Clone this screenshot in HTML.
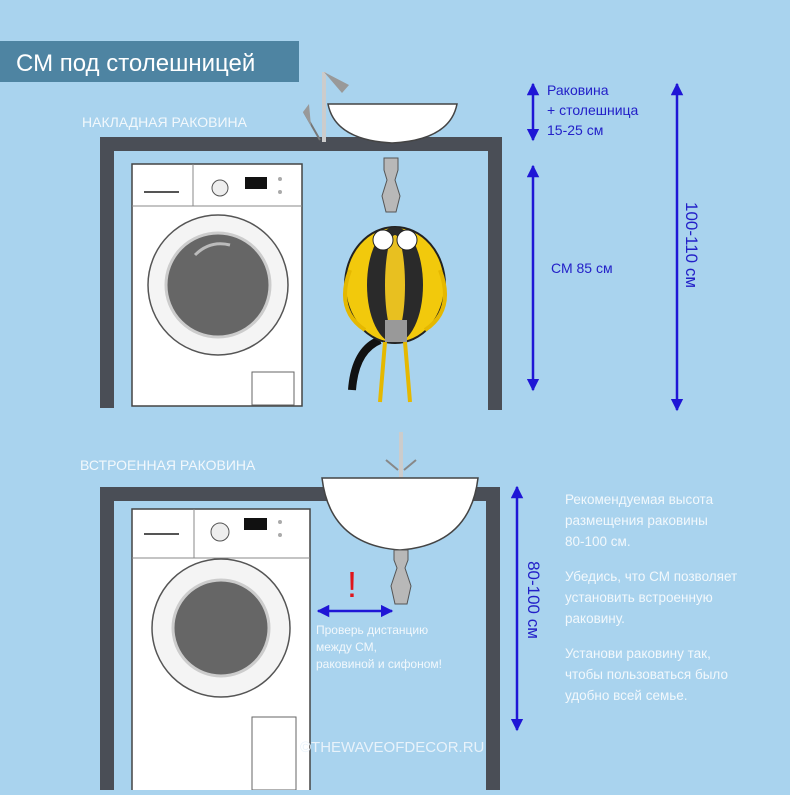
<!DOCTYPE html>
<html><head><meta charset="utf-8"><style>
body{margin:0;width:790px;height:790px;overflow:hidden;background:#a9d3ee;font-family:"Liberation Sans",sans-serif}
</style></head><body>
<svg width="790" height="790" viewBox="0 0 790 790" xmlns="http://www.w3.org/2000/svg" font-family="Liberation Sans, sans-serif">
<defs>
<marker id="a" viewBox="0 0 10 10" refX="9" refY="5" markerWidth="5" markerHeight="5" orient="auto-start-reverse"><path d="M0 0L10 5L0 10z" fill="#1f16d6"/></marker>
</defs>
<rect width="790" height="790" fill="#a9d3ee"/>
<rect x="0" y="41" width="299" height="41" fill="#4e84a2"/>
<text x="16" y="71" font-size="24" fill="#fff">СМ под столешницей</text>
<text x="82" y="127" font-size="14" fill="#f2f8fc">НАКЛАДНАЯ РАКОВИНА</text>
<text x="80" y="470" font-size="14" fill="#f2f8fc">ВСТРОЕННАЯ РАКОВИНА</text>

<path d="M107 408V144H495V410" fill="none" stroke="#4a4e56" stroke-width="14"/>
<path d="M324 142V72" stroke="#ccc" stroke-width="4"/><path d="M324 72l25 13-7 8z" fill="#999"/>
<path d="M320 140l-16 -28" stroke="#777" stroke-width="2"/><path d="M303 112l6-8 2 22z" fill="#999"/>
<path d="M328 104H457Q450 140 392 143Q335 140 328 104z" fill="#fff" stroke="#444" stroke-width="1.5"/>
<path d="M384 158h14v12l-3 10 5 16-4 16h-10l-4-16 5-16-3-10z" fill="#b8b8b8" stroke="#555"/>
<rect x="132" y="164" width="170" height="242" fill="#fff" stroke="#444" stroke-width="1.5"/>
<path d="M132 206H302M193 164V206" stroke="#888"/>
<path d="M144 192h35" stroke="#555" stroke-width="2"/>
<circle cx="220" cy="188" r="8" fill="#eee" stroke="#555"/><rect x="245" y="177" width="22" height="12" fill="#111"/>
<circle cx="280" cy="179" r="2" fill="#aaa"/><circle cx="280" cy="192" r="2" fill="#aaa"/>
<circle cx="218" cy="285" r="70" fill="#f4f4f4" stroke="#555" stroke-width="1.5"/>
<circle cx="218" cy="285" r="52" fill="#666" stroke="#ccc" stroke-width="3"/>
<path d="M195 255q15-15 35-10" stroke="#bbb" stroke-width="3" fill="none"/>
<rect x="252" y="372" width="42" height="33" fill="#fff" stroke="#666"/>
<path d="M380 340q-25 10-28 50" stroke="#111" stroke-width="8" fill="none"/>
<ellipse cx="395" cy="285" rx="50" ry="58" fill="#f2c90c" stroke="#222" stroke-width="2"/>
<ellipse cx="395" cy="285" rx="28" ry="58" fill="#2a2a2a"/>
<ellipse cx="395" cy="285" rx="10" ry="50" fill="#e8c020"/>
<circle cx="383" cy="240" r="10" fill="#fff" stroke="#222"/><circle cx="407" cy="240" r="10" fill="#fff" stroke="#222"/>
<rect x="385" y="320" width="22" height="22" fill="#999"/>
<path d="M350 270q-15 40 15 60M440 270q15 40-15 60M385 342l-5 60M405 342l5 60" stroke="#e5b800" stroke-width="4" fill="none"/>

<path d="M107 790V494H493V790" fill="none" stroke="#4a4e56" stroke-width="14"/>
<path d="M401 484V432" stroke="#ccc" stroke-width="4"/>
<path d="M398 470l-12-10M404 470l12-10" stroke="#888" stroke-width="2"/>
<path d="M322 478H478Q470 545 400 550Q330 545 322 478z" fill="#fff" stroke="#444" stroke-width="1.5"/>
<path d="M394 550h14v10l-3 8 6 18-4 18h-12l-4-18 6-18-3-8z" fill="#b8b8b8" stroke="#555"/>
<rect x="132" y="509" width="178" height="285" fill="#fff" stroke="#444" stroke-width="1.5"/>
<path d="M132 558H310M194 509V558" stroke="#888"/>
<path d="M144 534h35" stroke="#555" stroke-width="2"/>
<circle cx="220" cy="532" r="9" fill="#eee" stroke="#555"/><rect x="244" y="518" width="23" height="12" fill="#111"/>
<circle cx="280" cy="522" r="2" fill="#aaa"/><circle cx="280" cy="535" r="2" fill="#aaa"/>
<circle cx="221" cy="628" r="69" fill="#f4f4f4" stroke="#555" stroke-width="1.5"/>
<circle cx="221" cy="628" r="48" fill="#666" stroke="#ccc" stroke-width="3"/>
<rect x="252" y="717" width="44" height="73" fill="#fff" stroke="#666"/>
<text x="347" y="597" font-size="36" fill="#e0151b">!</text>
<path d="M318 611H392" stroke="#1f16d6" stroke-width="2.5" marker-start="url(#a)" marker-end="url(#a)"/>
<text font-size="12" fill="#f2f8fc"><tspan x="316" y="634">Проверь дистанцию</tspan><tspan x="316" y="651">между СМ,</tspan><tspan x="316" y="668">раковиной и сифоном!</tspan></text>
<text x="300" y="752" font-size="15" fill="#e8f2fa">©THEWAVEOFDECOR.RU</text>

<g stroke="#1f16d6" stroke-width="2.5" fill="none">
<path d="M533 84V140" marker-start="url(#a)" marker-end="url(#a)"/>
<path d="M533 166V390" marker-start="url(#a)" marker-end="url(#a)"/>
<path d="M677 84V410" marker-start="url(#a)" marker-end="url(#a)"/>
<path d="M517 487V730" marker-start="url(#a)" marker-end="url(#a)"/>
</g>
<text font-size="14" fill="#2320c8"><tspan x="547" y="95">Раковина</tspan><tspan x="547" y="115">+ столешница</tspan><tspan x="547" y="135">15-25 см</tspan></text>
<text x="551" y="273" font-size="14" fill="#2320c8">СМ 85 см</text>
<text transform="translate(686 245) rotate(90)" text-anchor="middle" font-size="17" fill="#2320c8">100-110 см</text>
<text transform="translate(528 600) rotate(90)" text-anchor="middle" font-size="17" fill="#2320c8">80-100 см</text>
<text font-size="13.5" fill="#f2f8fc"><tspan x="565" y="504">Рекомендуемая высота</tspan><tspan x="565" y="525">размещения раковины</tspan><tspan x="565" y="546">80-100 см.</tspan><tspan x="565" y="581">Убедись, что СМ позволяет</tspan><tspan x="565" y="602">установить встроенную</tspan><tspan x="565" y="623">раковину.</tspan><tspan x="565" y="658">Установи раковину так,</tspan><tspan x="565" y="679">чтобы пользоваться было</tspan><tspan x="565" y="700">удобно всей семье.</tspan></text>
</svg>
</body></html>
